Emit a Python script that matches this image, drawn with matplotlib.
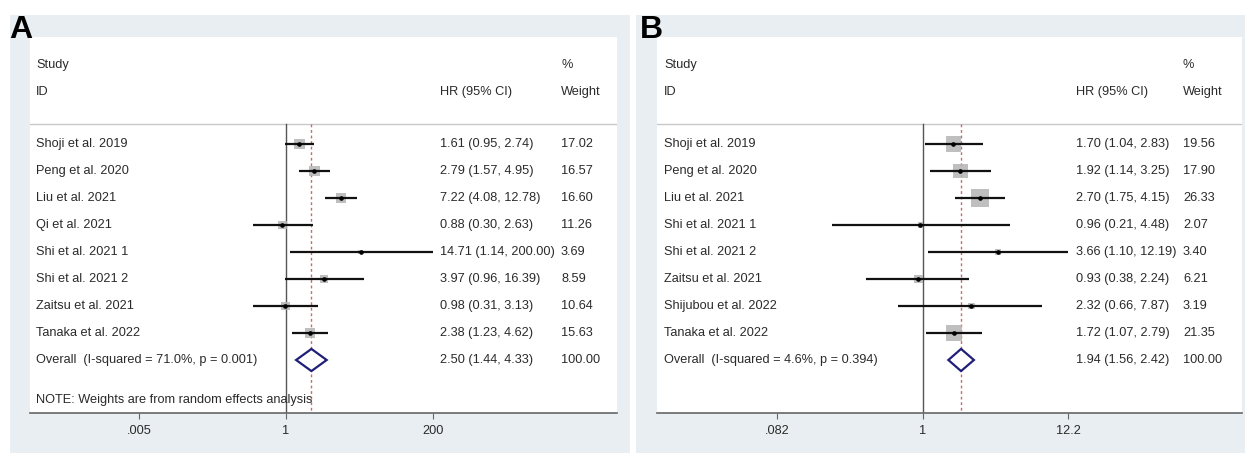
import numpy as np
import matplotlib.pyplot as plt
from matplotlib.patches import Rectangle, Polygon
from matplotlib.transforms import blended_transform_factory

plt.rcParams['font.family'] = ['Liberation Sans', 'DejaVu Sans']
plt.rcParams['text.color'] = '#2a2a2a'

# Panel A data
studies_a = ["Shoji et al. 2019", "Peng et al. 2020", "Liu et al. 2021", "Qi et al. 2021",
             "Shi et al. 2021 1", "Shi et al. 2021 2", "Zaitsu et al. 2021", "Tanaka et al. 2022"]
hr_a = [1.61, 2.79, 7.22, 0.88, 14.71, 3.97, 0.98, 2.38]
lo_a = [0.95, 1.57, 4.08, 0.30, 1.14, 0.96, 0.31, 1.23]
hi_a = [2.74, 4.95, 12.78, 2.63, 200.00, 16.39, 3.13, 4.62]
w_a = [17.02, 16.57, 16.60, 11.26, 3.69, 8.59, 10.64, 15.63]
overall_a = [2.50, 1.44, 4.33]
het_a = "Overall  (I-squared = 71.0%, p = 0.001)"
ticks_a = [0.005, 1, 200]
ticklabels_a = [".005", "1", "200"]

# Panel B data
studies_b = ["Shoji et al. 2019", "Peng et al. 2020", "Liu et al. 2021", "Shi et al. 2021 1",
             "Shi et al. 2021 2", "Zaitsu et al. 2021", "Shijubou et al. 2022", "Tanaka et al. 2022"]
hr_b = [1.70, 1.92, 2.70, 0.96, 3.66, 0.93, 2.32, 1.72]
lo_b = [1.04, 1.14, 1.75, 0.21, 1.10, 0.38, 0.66, 1.07]
hi_b = [2.83, 3.25, 4.15, 4.48, 12.19, 2.24, 7.87, 2.79]
w_b = [19.56, 17.90, 26.33, 2.07, 3.40, 6.21, 3.19, 21.35]
overall_b = [1.94, 1.56, 2.42]
het_b = "Overall  (I-squared = 4.6%, p = 0.394)"
ticks_b = [0.082, 1, 12.2]
ticklabels_b = [".082", "1", "12.2"]

W, H = 1245, 453
DPI = 100
fig = plt.figure(figsize=(W / DPI, H / DPI), dpi=DPI)
fig.patch.set_facecolor('white')

GREY = '#e8eef1'
FS = 9.2


def px_rect(x0, y0, x1, y1):
    # pixel box (top-left origin) -> figure fraction
    return [x0 / W, 1 - y1 / H, (x1 - x0) / W, (y1 - y0) / H]


def forest(ax, studies, hr, lo, hi, w, overall, het, ticks, ticklabels,
           xlim, box_k, xcols, note=None):
    n = len(studies)
    ax.set_xscale('log')
    ax.set_xlim(*xlim)
    # rows are 27 px apart, first row 107 px below the top of the box
    ax.set_ylim(9.963, -3.963)
    y = np.arange(n)
    y_top = -0.741

    ax.axhline(y_top, color='#c8c8c8', lw=1.0)
    ax.plot([1, 1], [y_top, 9.963], color='#555555', lw=1.0, zorder=2)
    ax.plot([overall[0], overall[0]], [y_top, 9.963], color='#c76a6a', lw=1.0,
            ls=(0, (2, 2)), zorder=2)

    # boxes scaled by weight
    side_pt = box_k * np.sqrt(np.array(w)) * 72 / DPI
    ax.scatter(hr, y, s=side_pt ** 2, marker='s', color='#b4b4b4', alpha=0.85,
               linewidths=0, zorder=3)
    ax.hlines(y, lo, hi, color='#111111', lw=1.6, zorder=4)
    ax.scatter(hr, y, s=11, color='black', zorder=5, linewidths=0)

    # pooled estimate
    est, olo, ohi = overall
    h = 0.41
    ax.add_patch(Polygon([(olo, n), (est, n - h), (ohi, n), (est, n + h)],
                         closed=True, facecolor='white', edgecolor='#1f1f78',
                         lw=1.6, zorder=4))

    tr = blended_transform_factory(ax.transAxes, ax.transData)
    xl, xh, xw = xcols
    ax.text(xl, -2.926, "Study", transform=tr, fontsize=FS, va='center')
    ax.text(xl, -1.926, "ID", transform=tr, fontsize=FS, va='center')
    ax.text(xh, -1.926, "HR (95% CI)", transform=tr, fontsize=FS, va='center')
    ax.text(xw, -2.926, "%", transform=tr, fontsize=FS, va='center')
    ax.text(xw, -1.926, "Weight", transform=tr, fontsize=FS, va='center')
    for i in range(n):
        ax.text(xl, i, studies[i], transform=tr, fontsize=FS, va='center')
        ax.text(xh, i, f"{hr[i]:.2f} ({lo[i]:.2f}, {hi[i]:.2f})", transform=tr,
                fontsize=FS, va='center')
        ax.text(xw, i, f"{w[i]:.2f}", transform=tr, fontsize=FS, va='center')
    ax.text(xl, n, het, transform=tr, fontsize=FS, va='center')
    ax.text(xh, n, f"{est:.2f} ({olo:.2f}, {ohi:.2f})", transform=tr,
            fontsize=FS, va='center')
    ax.text(xw, n, "100.00", transform=tr, fontsize=FS, va='center')
    if note:
        ax.text(xl, 9.48, note, transform=tr, fontsize=FS, va='center')

    ax.set_xticks(ticks)
    ax.set_xticklabels(ticklabels, fontsize=FS)
    ax.xaxis.set_minor_locator(plt.NullLocator())
    ax.set_yticks([])
    for s in ['top', 'left', 'right']:
        ax.spines[s].set_visible(False)
    ax.spines['bottom'].set_color('#666666')
    ax.spines['bottom'].set_linewidth(1.2)
    ax.tick_params(axis='x', length=4, color='#666666', pad=5, labelcolor='#2a2a2a')


# grey panel backgrounds
fig.add_artist(Rectangle((10 / W, 0), 620 / W, 1 - 15 / H, transform=fig.transFigure,
                         facecolor=GREY, edgecolor='none', zorder=0))
fig.add_artist(Rectangle((636 / W, 0), 609 / W, 1 - 15 / H, transform=fig.transFigure,
                         facecolor=GREY, edgecolor='none', zorder=0))

ax_a = fig.add_axes(px_rect(30, 37, 617, 413))
ax_b = fig.add_axes(px_rect(657, 37, 1242, 413))

forest(ax_a, studies_a, hr_a, lo_a, hi_a, w_a, overall_a, het_a, ticks_a, ticklabels_a,
       (10 ** -4.006, 10 ** 5.18), 2.6, (0.0102, 0.6985, 0.9046),
       note="NOTE: Weights are from random effects analysis")
forest(ax_b, studies_b, hr_b, lo_b, hi_b, w_b, overall_b, het_b, ticks_b, ticklabels_b,
       (10 ** -1.983, 10 ** 2.386), 3.5, (0.012, 0.716, 0.899))

fig.text(9 / W, 1 - 38 / H, "A", fontsize=23, fontweight='bold', va='baseline', color='black')
fig.text(640 / W, 1 - 38 / H, "B", fontsize=23, fontweight='bold', va='baseline', color='black')

fig.savefig("out.png", dpi=DPI, facecolor='white')
